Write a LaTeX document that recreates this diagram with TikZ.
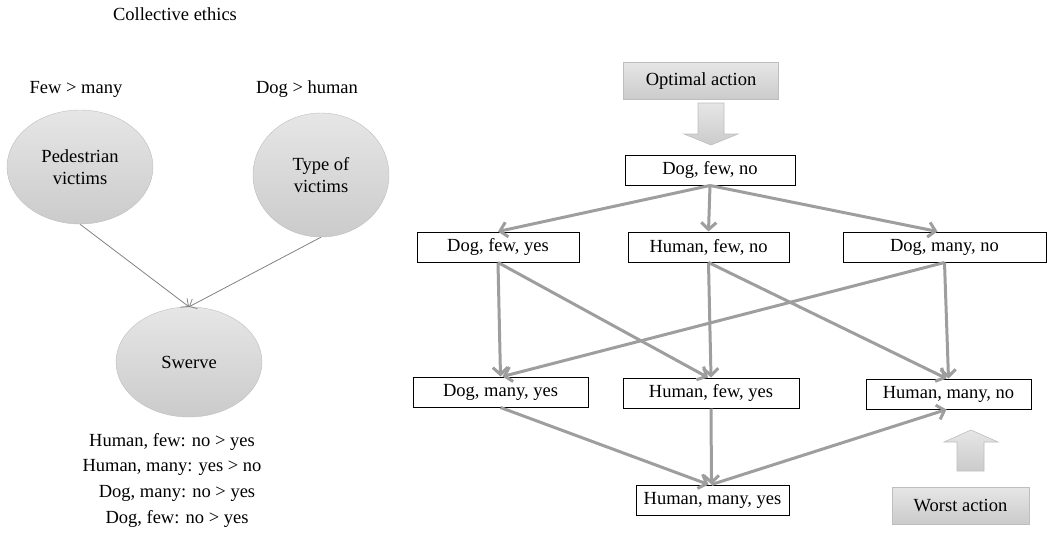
\documentclass[tikz,border=0pt]{standalone}
\usepackage{fontspec}
\setmainfont{Liberation Serif}
\usetikzlibrary{shapes.geometric,arrows.meta}

\definecolor{linegray}{RGB}{158,158,158}
\definecolor{thingray}{RGB}{130,130,130}
\definecolor{shadetop}{RGB}{230,230,230}
\definecolor{shadebot}{RGB}{203,203,203}
\definecolor{rimgray}{RGB}{190,190,190}

\tikzset{
  outcome/.style = {draw = black, line width = 1pt, minimum height = 30pt, inner sep = 0pt, fill = white},
  tagbox/.style = {draw = rimgray, top color = shadetop, bottom color = shadebot, minimum height = 37pt, inner sep = 0pt},
  factor/.style = {ellipse, draw = rimgray, top color = shadetop, bottom color = shadebot, inner sep = 0pt, align = center},
  order/.style = {draw = linegray, line width = 3pt, -{Straight Barb[length = 7pt, width = 15pt]}},
  cause/.style = {draw = thingray, line width = .8pt, -{Straight Barb[length = 6pt, width = 11pt]}},
  bigarrow/.style = {draw = rimgray, top color = shadetop, bottom color = shadebot, line width = .6pt}
}

\begin{document}
\begin{tikzpicture}[x = 1pt, y = -1pt, font = \fontsize{18.5}{22}\selectfont]

\useasboundingbox (0, 0) rectangle (1047, 533);

% left: the network
\node (title) at (175, 14) {Collective ethics};

\node (fewmany) at (76, 89) {Few > many};
\node (doghuman) at (307, 89) {Dog > human};

\node[factor, minimum width = 146pt, minimum height = 114pt] (ped) at (80, 167) {Pedestrian\\victims};
\node[factor, minimum width = 136pt, minimum height = 124pt] (type) at (321, 175) {Type of\\victims};
\node[factor, minimum width = 146pt, minimum height = 110pt] (swerve) at (189, 362) {Swerve};

\draw[cause] (ped.south) to (swerve.north);
\draw[cause] (type.south) to (swerve.north);

\node (pref1) at (172, 442) {Human, few: no > yes};
\node (pref2) at (172, 467) {Human, many: yes > no};
\node (pref3) at (177, 493) {Dog, many: no > yes};
\node (pref4) at (177, 519) {Dog, few: no > yes};

% right: the ordering of the actions
\node[tagbox, minimum width = 155pt] (best) at (701, 81) {Optimal action};
\draw[bigarrow] (698, 103) -- (724, 103) -- (724, 134) -- (738, 134) -- (711, 145) -- (684, 134) -- (698, 134) -- cycle;

\node[outcome, minimum width = 170pt] (dfn) at (710, 170) {Dog, few, no};

\node[outcome, minimum width = 162pt] (dfy) at (498, 247) {Dog, few, yes};
\node[outcome, minimum width = 161pt] (hfn) at (708.5, 247) {Human, few, no};
\node[outcome, minimum width = 203pt] (dmn) at (944.5, 247) {Dog, many, no};

\node[outcome, minimum width = 175pt] (dmy) at (500.5, 392) {Dog, many, yes};
\node[outcome, minimum width = 176pt] (hfy) at (711, 393) {Human, few, yes};
\node[outcome, minimum width = 165pt] (hmn) at (948.5, 394) {Human, many, no};

\node[outcome, minimum width = 153pt] (hmy) at (712.5, 500) {Human, many, yes};

\node[tagbox, minimum width = 137pt] (worst) at (960.5, 505.5) {Worst action};
\draw[bigarrow] (957, 471) -- (957, 442) -- (944, 442) -- (971, 430) -- (998, 442) -- (984, 442) -- (984, 471) -- cycle;

\draw[order] (dfn.south) to (dfy.north);
\draw[order] (dfn.south) to (hfn.north);
\draw[order] (dfn.south) to ([xshift = -7pt]dmn.north);

\draw[order] (dfy.south) to (dmy.north);
\draw[order] (dfy.south) to ([xshift = -3pt]hfy.north);
\draw[order] (hfn.south) to (hfy.north);
\draw[order] (hfn.south) to ([xshift = -2pt]hmn.north);
\draw[order] (dmn.south) to ([xshift = 2pt]dmy.north);
\draw[order] (dmn.south) to (hmn.north);

\draw[order] (dmy.south) to ([xshift = -4pt]hmy.north);
\draw[order] (hfy.south) to ([xshift = -1pt]hmy.north);
\draw[order] ([xshift = -1pt]hmy.north) to ([xshift = -2pt]hmn.south);

\end{tikzpicture}
\end{document}
